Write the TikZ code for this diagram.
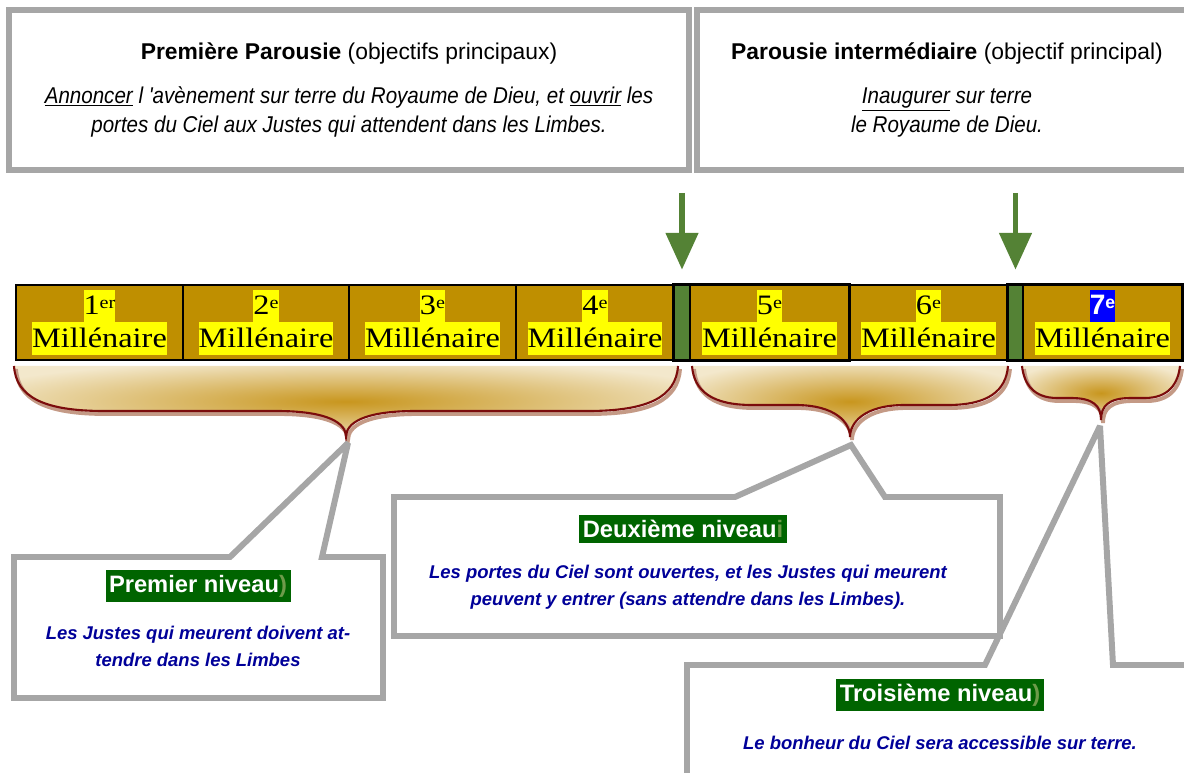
\documentclass[tikz,border=0pt]{standalone}
\usepackage{fontspec}
\setmainfont{Liberation Serif}
\setsansfont{Liberation Sans}
\newfontfamily\narrowsf[FakeStretch=0.9]{Liberation Sans}
\newfontfamily\milfont[FakeStretch=1.15]{Liberation Serif}
\usetikzlibrary{arrows.meta,positioning}
\definecolor{boxgray}{HTML}{A6A6A6}
\definecolor{cellgold}{HTML}{BF8F00}
\definecolor{hlyellow}{HTML}{FFFF00}
\definecolor{hlblue}{HTML}{0000FF}
\definecolor{arrowgreen}{HTML}{548235}
\definecolor{lvlgreen}{HTML}{006400}
\definecolor{lvlparen}{HTML}{6E9B4A}
\definecolor{textblue}{HTML}{000099}
\definecolor{bracered}{HTML}{7B0C0C}
\definecolor{braceshadow}{HTML}{C49A86}
\definecolor{bracelight}{HTML}{F3E8CC}
\definecolor{bracedark}{HTML}{C8961E}
\def\pxu{0.02cm}
\newcommand{\supx}[1]{\raisebox{3pt}{\fontsize{10}{10}\selectfont #1}}
\newcommand{\hlt}[1]{{\setlength{\fboxsep}{0pt}\colorbox{hlyellow}{\vrule height 14pt depth 4.7pt width 0pt #1}}}
\newcommand{\hlb}[1]{{\setlength{\fboxsep}{0pt}\colorbox{hlblue}{\vrule height 14pt depth 4.7pt width 0pt\textcolor{white}{\sffamily\bfseries #1}}}}
\newcommand{\mil}[1]{\vbox{\offinterlineskip\halign{\hfil##\hfil\cr #1\cr \hlt{Millénaire}\cr}}}
\pgfdeclareradialshading{braceshade}{\pgfpoint{0bp}{0bp}}{color(0bp)=(bracedark); color(30bp)=(bracelight); color(50bp)=(bracelight)}
% brace: x left, x right, y top, y level, y tip, end width, middle half width
\newcommand{\bracepath}[7]{(#1,#3) .. controls (#1+2,#4-14) and (#1+#6/3,#4) .. (#1+#6,#4) -- ({(#1+#2)/2-#7},#4) .. controls ({(#1+#2)/2-#7/4},#4) and ({(#1+#2)/2},#5-14) .. ({(#1+#2)/2},#5) .. controls ({(#1+#2)/2},#5-14) and ({(#1+#2)/2+#7/4},#4) .. ({(#1+#2)/2+#7},#4) -- (#2-#6,#4) .. controls (#2-#6/3,#4) and (#2-2,#4-14) .. (#2,#3)}

\begin{document}
\begin{tikzpicture}[x=0.02cm, y=-0.02cm,
        topbox/.style={draw=boxgray, line width=3.4pt, fill=white, align=center, font=\sffamily\fontsize{13}{17}\selectfont},
        cell/.style={fill=cellgold, draw=black, line width=1pt, minimum height=75*\pxu, inner sep=0pt, font=\milfont\fontsize{16}{18.7}\selectfont},
        strip/.style={fill=arrowgreen, minimum width=16*\pxu, minimum height=75*\pxu, inner sep=0pt},
        garrow/.style={draw=arrowgreen, line width=3.4pt, -{Triangle[width=18pt,length=21pt]}, shorten >=8.5pt},
        callout/.style={draw=boxgray, fill=white, line width=3.4pt, line join=miter, miter limit=3},
        lvl/.style={fill=lvlgreen, text=white, inner xsep=2pt, inner ysep=3pt, font=\sffamily\bfseries\fontsize{13.5}{16}\selectfont},
        lvltext/.style={text=textblue, align=center, font=\sffamily\bfseries\itshape\fontsize{10.5}{15.4}\selectfont}
    ]
        \useasboundingbox (0,0) rectangle (1184,773);
        \clip (0,0) rectangle (1184,773);

        % Parousie boxes
        \node[topbox, minimum width=680*\pxu, minimum height=160*\pxu] (par1) at (349,90)
            {\textbf{Première Parousie} (objectifs principaux)\\[8pt]
             {\narrowsf\itshape \underline{Annoncer} l 'avènement sur terre du Royaume de Dieu, et \underline{ouvrir} les}\\
             {\narrowsf\itshape portes du Ciel aux Justes qui attendent dans les Limbes.}};
        \node[topbox, minimum width=500*\pxu, minimum height=160*\pxu] (par2) at (947,90)
            {\textbf{Parousie intermédiaire} (objectif principal)\\[8pt]
             {\narrowsf\itshape \underline{Inaugurer} sur terre}\\
             {\narrowsf\itshape le Royaume de Dieu.}};

        % Millenaires
        \node[cell, minimum width=167*\pxu] (m1) at (99.5,322.5) {\mil{\hlt{1\supx{er}}}};
        \node[cell, minimum width=166*\pxu] (m2) at (266,322.5) {\mil{\hlt{2\supx{e}}}};
        \node[cell, minimum width=167*\pxu] (m3) at (432.5,322.5) {\mil{\hlt{3\supx{e}}}};
        \node[cell, minimum width=158*\pxu] (m4) at (595,322.5) {\mil{\hlt{4\supx{e}}}};
        \node[strip] (s1) at (682,322.5) {};
        \node[cell, minimum width=159*\pxu] (m5) at (769.5,322.5) {\mil{\hlt{5\supx{e}}}};
        \node[cell, minimum width=159*\pxu] (m6) at (928.5,322.5) {\mil{\hlt{6\supx{e}}}};
        \node[strip, minimum width=15*\pxu] (s2) at (1015.5,322.5) {};
        \node[cell, minimum width=159*\pxu] (m7) at (1102.5,322.5) {\mil{\hlb{7\supx{e}}}};
        \draw[line width=1.8pt] (s1.north west) rectangle (m5.south east);
        \draw[line width=1.8pt] (s2.north west) rectangle (m7.south east);

        % Arrows
        \coordinate (a1) at (682,193);
        \coordinate (a2) at (1015.5,193);
        \draw[garrow] (a1) -- (s1.north);
        \draw[garrow] (a2) -- (s2.north);

        % Braces
        \foreach \xa/\xb/\yl/\yt/\ew/\mw in {14/678/411/437/90/70, 692/1008/405/437/60/55, 1022/1180/398/420/35/30}{
            \shade[shading=braceshade] \bracepath{\xa}{\xb}{366}{\yl}{\yt}{\ew}{\mw} -- cycle;
            \draw[braceshadow, line width=2.2pt, shift={(2,3)}] \bracepath{\xa}{\xb}{366}{\yl}{\yt}{\ew}{\mw};
            \draw[bracered, line width=1.2pt] \bracepath{\xa}{\xb}{366}{\yl}{\yt}{\ew}{\mw};
        }
        \coordinate (tip1) at (348,443);
        \coordinate (tip2) at (851,445);
        \coordinate (tip3) at (1100,426);

        % Callouts
        \draw[callout] (687,665) -- (985,665) -- (tip3) -- (1113,665) -- (1195,665) -- (1195,790) -- (687,790) -- cycle;
        \draw[callout] (394,497) -- (735,497) -- (tip2) -- (885,497) -- (1000,497) -- (1000,636) -- (394,636) -- cycle;
        \draw[callout] (14,557) -- (230,557) -- (tip1) -- (322,557) -- (383,557) -- (383,698) -- (14,698) -- cycle;

        % Niveaux
        \node[lvl] (n1) at (198,586) {Premier niveau\textcolor{lvlparen}{)}};
        \node[lvltext] (n1t) at (198,646) {Les Justes qui meurent doivent at-\\tendre dans les Limbes};
        \node[lvl] (n2) at (683,529) {Deuxième niveau\textcolor{lvlparen}{i}};
        \node[lvltext] (n2t) at (688,587) {Les portes du Ciel sont ouvertes, et les Justes qui meurent\\peuvent y entrer (sans attendre dans les Limbes).};
        \node[lvl] (n3) at (940,695) {Troisième niveau\textcolor{lvlparen}{)}};
        \node[lvltext] (n3t) at (940,743) {Le bonheur du Ciel sera accessible sur terre.};
    \end{tikzpicture}
\end{document}
